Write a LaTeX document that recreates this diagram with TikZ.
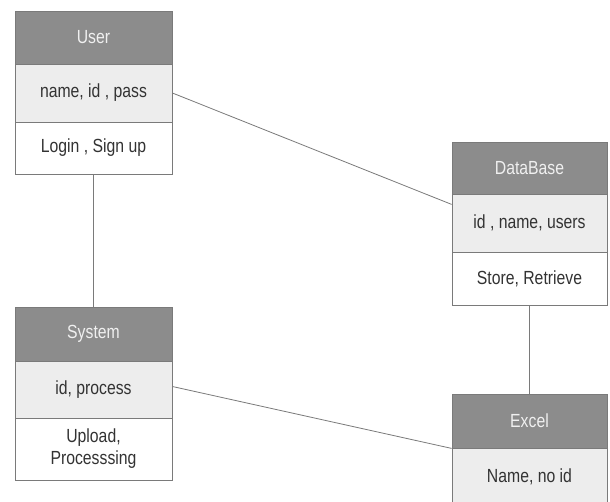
\documentclass[tikz,border=0pt]{standalone}
\usepackage{fontspec}
\setmainfont[FakeStretch=0.83]{Liberation Sans}
\definecolor{hdr}{HTML}{8C8C8C}
\definecolor{attr}{HTML}{EDEDED}
\definecolor{edge}{HTML}{7A7A7A}
\definecolor{txt}{HTML}{333333}
\begin{document}
\begin{tikzpicture}[x=1pt,y=-1pt,
  row/.style={draw=edge, line width=0.8pt, inner sep=0pt, align=center, font=\fontsize{19}{22}\selectfont, text=txt, minimum width=#1},
  hrow/.style={row=#1, fill=hdr, text=white!94!black},
  arow/.style={row=#1, fill=attr},
  orow/.style={row=#1, fill=white},
  link/.style={draw=edge, line width=0.8pt}]
\useasboundingbox[fill=white] (0,0) rectangle (610,502);
% User
\node[hrow=157pt, minimum height=53pt] (uh) at (93.5,37.5) {User};
\node[arow=157pt, minimum height=58pt] (ua) at (93.5,93) {name, id , pass};
\node[orow=157pt, minimum height=52pt] (uo) at (93.5,148) {Login , Sign up};
% DataBase
\node[hrow=155pt, minimum height=52pt] (dh) at (529.5,168) {DataBase};
\node[arow=155pt, minimum height=58pt] (da) at (529.5,223) {id , name, users};
\node[orow=155pt, minimum height=53pt] (do) at (529.5,278.5) {Store, Retrieve};
% System
\node[hrow=157pt, minimum height=54pt] (sh) at (93.5,334) {System};
\node[arow=157pt, minimum height=57pt] (sa) at (93.5,389.5) {id, process};
\node[orow=157pt, minimum height=62pt] (so) at (93.5,449) {Upload,\\[0pt]Processsing};
% Excel
\node[hrow=155pt, minimum height=54pt] (eh) at (529.5,421) {Excel};
\node[arow=155pt, minimum height=58pt] (ea) at (529.5,477) {Name, no id};
% connectors
\draw[link] (ua.east) -- ([yshift=-10pt]dh.south west);
\draw[link] (uo.south) -- (sh.north);
\draw[link] (do.south) -- (eh.north);
\draw[link] ([yshift=3pt]sa.east) -- (eh.south west);
\end{tikzpicture}
\end{document}
